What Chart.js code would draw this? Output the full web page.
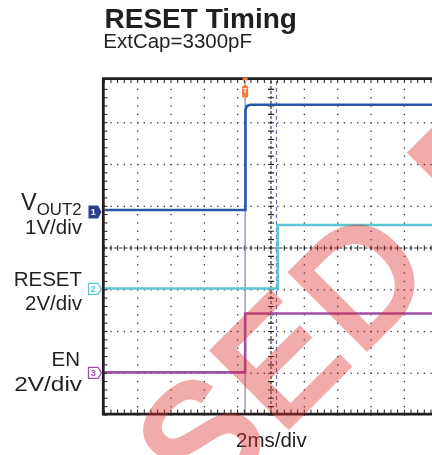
<!DOCTYPE html>
<html>
<head>
<meta charset="utf-8">
<script src="https://cdn.jsdelivr.net/npm/chart.js@4.4.0/dist/chart.umd.min.js"></script>
<style>
    body { margin: 0; background: #fff; overflow: hidden; }
    #scope { display: block; }
</style>
</head>
<body>
<canvas id="scope" width="432" height="455"></canvas>
<script>
// Time window (ms, 2 ms/div) and vertical range (divisions)
const xMin = -10, xMax = 9.66;
const yMin = -4, yMax = 4;

// Traces: time in ms, level in divisions
const vout2Ms  = [-10, -1.53, -1.53, -1.45, -1.25, 9.66];
const vout2Div = [0.91, 0.91, 3.30, 3.40, 3.43, 3.43];
const resetMs  = [-10, 0.40, 0.40, 9.66];
const resetDiv = [-0.97, -0.97, 0.55, 0.55];
const enMs     = [-10, -1.55, -1.55, 9.66];
const enDiv    = [-2.98, -2.98, -1.57, -1.57];

// Channel ground markers and cursors
const markerNums = ['1', '2', '3'];
const markerDiv = [0.86, -0.98, -2.99];
const triggerMs = -1.55;
const cursorMs = 0.33;

const colors = {
    vout2: '#2b55a6',
    reset: '#5cc7d3',
    en: '#a04fa8',
    ink: '#231f20'
};
const FONT = '"Liberation Sans", Arial, sans-serif';

const toPts = (xs, ys) => xs.map((x, i) => ({ x: x, y: ys[i] }));

function drawWatermark(ctx) {
    // drawn opaque off-screen, letter by letter, then laid over at low alpha
    const off = document.createElement('canvas');
    off.width = 432; off.height = 455;
    const o = off.getContext('2d');
    const text = 'RELEASED RELEASED';
    const size = 155, gap = 7, dIndex = 7;
    o.font = size + 'px ' + FONT;
    const mD = o.measureText('D');
    const lsb = -mD.actualBoundingBoxLeft;
    const cap = mD.actualBoundingBoxAscent;
    let pos = 0;
    for (let i = 0; i < dIndex; i++) pos += o.measureText(text[i]).width + gap;
    o.translate(290, 272);           // top-left corner of the "D"
    o.rotate(-Math.PI / 4);
    o.fillStyle = 'rgb(222, 45, 45)';
    o.strokeStyle = 'rgb(222, 45, 45)';
    o.lineWidth = 6;
    let cx = -(pos + lsb);
    for (const ch of text) {
        o.fillText(ch, cx, cap);
        o.strokeText(ch, cx, cap);
        cx += o.measureText(ch).width + gap;
    }
    ctx.save();
    ctx.globalAlpha = 0.4;
    ctx.drawImage(off, 0, 0);
    ctx.restore();
}

const scopePlugin = {
    id: 'scope',
    beforeDatasetsDraw(chart) {
        const { ctx, chartArea: a, scales: { x, y } } = chart;
        ctx.save();
        ctx.fillStyle = '#333';

        // dotted graticule
        for (let d = -3; d <= 3; d++) {
            if (d === 0) continue;
            const py = y.getPixelForValue(d);
            for (let t = xMin; t <= xMax + 0.01; t += 0.4) {
                ctx.fillRect(x.getPixelForValue(t) - 0.6, py - 0.6, 1.3, 1.3);
            }
        }
        for (let t = -8; t <= 8; t += 2) {
            if (t === 0) continue;
            const px = x.getPixelForValue(t);
            for (let d = yMin; d <= yMax; d += 0.2) {
                ctx.fillRect(px - 0.6, y.getPixelForValue(d) - 0.6, 1.3, 1.3);
            }
        }

        // center axes with minor ticks
        ctx.strokeStyle = '#222';
        ctx.lineWidth = 1.1;
        ctx.setLineDash([3, 2]);
        const cy = y.getPixelForValue(0), cx = x.getPixelForValue(0);
        ctx.beginPath();
        ctx.moveTo(a.left, cy); ctx.lineTo(a.right, cy);
        ctx.moveTo(cx, a.top); ctx.lineTo(cx, a.bottom);
        ctx.stroke();
        ctx.setLineDash([]);
        ctx.beginPath();
        for (let t = xMin; t <= xMax + 0.01; t += 0.4) {
            const px = x.getPixelForValue(t);
            ctx.moveTo(px, cy - 2.5); ctx.lineTo(px, cy + 2.5);
        }
        for (let d = yMin; d <= yMax; d += 0.2) {
            const py = y.getPixelForValue(d);
            ctx.moveTo(cx - 3, py); ctx.lineTo(cx + 3, py);
        }
        ctx.stroke();

        // trigger cursor (solid) and time cursor (dashed)
        const tx = x.getPixelForValue(triggerMs);
        ctx.strokeStyle = '#7c87b8';
        ctx.lineWidth = 1.2;
        ctx.beginPath();
        ctx.moveTo(tx, a.top); ctx.lineTo(tx, a.bottom);
        ctx.stroke();
        const dx = x.getPixelForValue(cursorMs);
        ctx.strokeStyle = '#6d6aa6';
        ctx.setLineDash([4, 3]);
        ctx.beginPath();
        ctx.moveTo(dx, a.top); ctx.lineTo(dx, a.bottom);
        ctx.stroke();
        ctx.restore();
    },
    afterDatasetsDraw(chart) {
        const { ctx, scales: { x, y } } = chart;
        ctx.save();

        // frame + border ticks
        ctx.strokeStyle = colors.ink;
        ctx.lineWidth = 2.8;
        ctx.beginPath();
        ctx.moveTo(103.3, 78.7); ctx.lineTo(103.3, 415.5);
        ctx.moveTo(102, 78.7); ctx.lineTo(432, 78.7);
        ctx.moveTo(102, 414.2); ctx.lineTo(432, 414.2);
        ctx.stroke();
        ctx.lineWidth = 1;
        ctx.beginPath();
        for (let d = yMin; d <= yMax; d += 0.2) {
            const py = y.getPixelForValue(d);
            ctx.moveTo(103, py); ctx.lineTo(107.5, py);
        }
        for (let t = xMin; t <= xMax + 0.01; t += 0.4) {
            const px = x.getPixelForValue(t);
            ctx.moveTo(px, 414); ctx.lineTo(px, 409.5);
            ctx.moveTo(px, 79); ctx.lineTo(px, 83);
        }
        ctx.stroke();

        // channel markers
        const mColors = [colors.vout2, colors.reset, colors.en];
        markerNums.forEach((n, i) => {
            const py = y.getPixelForValue(markerDiv[i]);
            const x0 = 88.5, x1 = 98, tip = 101.5, h = i === 0 ? 13 : 11;
            ctx.beginPath();
            ctx.moveTo(x0, py - h / 2); ctx.lineTo(x1, py - h / 2); ctx.lineTo(tip, py);
            ctx.lineTo(x1, py + h / 2); ctx.lineTo(x0, py + h / 2); ctx.closePath();
            if (i === 0) {
                ctx.fillStyle = '#2a3f8f';
                ctx.fill();
                ctx.fillStyle = '#fff';
            } else {
                ctx.fillStyle = '#fff';
                ctx.fill();
                ctx.strokeStyle = mColors[i];
                ctx.lineWidth = 1.3;
                ctx.stroke();
                ctx.fillStyle = mColors[i];
            }
            ctx.font = 'bold 9px ' + FONT;
            ctx.textAlign = 'center';
            ctx.textBaseline = 'middle';
            ctx.fillText(n, (x0 + x1) / 2, py + 0.5);
        });

        // trigger marker
        const tx = x.getPixelForValue(triggerMs);
        ctx.fillStyle = '#f07a34';
        ctx.fillRect(tx - 2.5, 77.5, 5, 3);
        ctx.beginPath();
        ctx.roundRect(tx - 3, 85.5, 6, 12, 1.5);
        ctx.fill();
        ctx.fillStyle = '#fff';
        ctx.font = 'bold 7px ' + FONT;
        ctx.textAlign = 'center';
        ctx.textBaseline = 'middle';
        ctx.fillText('T', tx, 91.5);

        // texts
        ctx.fillStyle = colors.ink;
        ctx.textBaseline = 'alphabetic';
        ctx.textAlign = 'left';
        ctx.font = 'bold 28px ' + FONT;
        ctx.fillText('RESET Timing', 104.5, 27.5);
        ctx.font = '20.5px ' + FONT;
        ctx.fillText('ExtCap=3300pF', 103.3, 48.3);
        ctx.fillText('2ms/div', 236, 447.3);

        ctx.font = '16.8px ' + FONT;
        const subW = ctx.measureText('OUT2').width;
        ctx.fillText('OUT2', 81.5 - subW, 215);
        ctx.font = '23.5px ' + FONT;
        ctx.textAlign = 'right';
        ctx.fillText('V', 81.5 - subW, 210);
        ctx.font = '20.5px ' + FONT;
        ctx.fillText('1V/div', 82, 234);
        ctx.fillText('RESET', 82, 285.7);
        ctx.fillText('2V/div', 82, 310);
        ctx.fillText('EN', 80, 365.7);
        ctx.save();
        ctx.translate(82, 391);
        ctx.scale(1.19, 1);
        ctx.fillText('2V/div', 0, 0);
        ctx.restore();
        ctx.restore();

        drawWatermark(ctx);
    }
};

new Chart(document.getElementById('scope'), {
    type: 'line',
    data: {
        datasets: [
            { data: toPts(enMs, enDiv), borderColor: colors.en },
            { data: toPts(resetMs, resetDiv), borderColor: colors.reset },
            { data: toPts(vout2Ms, vout2Div), borderColor: colors.vout2 }
        ].map(ds => Object.assign(ds, { borderWidth: 2.6, pointRadius: 0, tension: 0, fill: false }))
    },
    options: {
        responsive: false,
        animation: false,
        devicePixelRatio: 1,
        layout: { padding: { left: 104.3, top: 81, right: 0, bottom: 40 } },
        plugins: { legend: { display: false }, tooltip: { enabled: false } },
        scales: {
            x: { type: 'linear', min: xMin, max: xMax, display: false },
            y: { type: 'linear', min: yMin, max: yMax, display: false }
        }
    },
    plugins: [scopePlugin]
});
</script>
</body>
</html>
